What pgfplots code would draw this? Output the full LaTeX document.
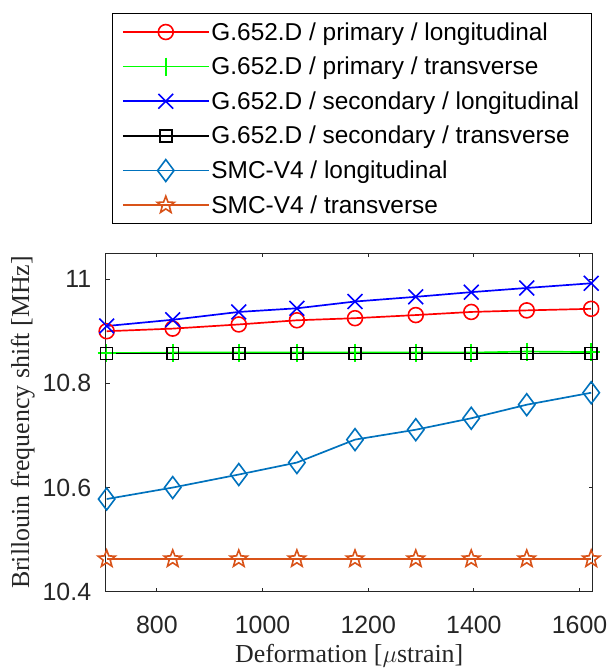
\documentclass[border=0pt]{standalone}
\usepackage{fontspec}
\setmainfont{Liberation Sans}
\newfontfamily\timesfont{Liberation Serif}
\usepackage{pgfplots}
\pgfplotsset{compat=1.18}
\usetikzlibrary{plotmarks}

\definecolor{mblue}{rgb}{0,0.447,0.741}
\definecolor{morange}{rgb}{0.85,0.325,0.098}
\definecolor{axgray}{rgb}{0.15,0.15,0.15}

% five pointed outline star (MATLAB pentagram)
\pgfdeclareplotmark{pentastar}{%
  \pgfpathmoveto{\pgfpointpolar{90}{\pgfplotmarksize}}%
  \pgfpathlineto{\pgfpointpolar{126}{0.42\pgfplotmarksize}}%
  \pgfpathlineto{\pgfpointpolar{162}{\pgfplotmarksize}}%
  \pgfpathlineto{\pgfpointpolar{198}{0.42\pgfplotmarksize}}%
  \pgfpathlineto{\pgfpointpolar{234}{\pgfplotmarksize}}%
  \pgfpathlineto{\pgfpointpolar{270}{0.42\pgfplotmarksize}}%
  \pgfpathlineto{\pgfpointpolar{306}{\pgfplotmarksize}}%
  \pgfpathlineto{\pgfpointpolar{342}{0.42\pgfplotmarksize}}%
  \pgfpathlineto{\pgfpointpolar{18}{\pgfplotmarksize}}%
  \pgfpathlineto{\pgfpointpolar{54}{0.42\pgfplotmarksize}}%
  \pgfpathclose
  \pgfusepathqstroke
}

\pgfplotsset{ser/.style={line width=1.7pt, mark options={solid, line width=1.6pt}}}

\begin{document}
\begin{tikzpicture}
\begin{axis}[
  scale only axis, width=489pt, height=340pt,
  xmin=703, xmax=1625, ymin=10.4, ymax=11.05,
  xtick={800,1000,1200,1400,1600},
  ytick={10.4,10.6,10.8,11},
  /pgf/number format/assume math mode=true,
  /pgf/number format/set thousands separator={},
  tick label style={font=\fontsize{25}{30}\selectfont, text=axgray},
  xticklabel style={yshift=-21pt},
  yticklabel style={xshift=-11pt},
  axis line style={axgray, line width=1pt},
  major tick style={axgray, line width=1pt},
  xlabel={\timesfont Deformation [$\mu$strain]},
  ylabel={\timesfont Brillouin frequency shift [MHz]},
  label style={font=\fontsize{26}{30}\selectfont, text=axgray},
  xlabel style={at={(axis description cs:0.5,-0.19)}, anchor=center},
  ylabel style={at={(axis description cs:-0.17,0.5)}, anchor=center},
  clip=false,
  legend style={at={(axis description cs:0.505,1.7088)}, anchor=north,
    draw=black, line width=1pt, font=\fontsize{24.5}{29}\selectfont,
    inner xsep=10pt, inner ysep=7pt, row sep=11.5pt},
  legend cell align=left,
  legend image code/.code={%
    \draw[line width=1.7pt, mark repeat=2,mark phase=2] plot coordinates {(0pt,0pt) (43pt,0pt) (86pt,0pt)};},
]
\addplot[ser, red, mark=o, mark size=7.5pt] coordinates {
 (705,10.900) (830,10.905) (955,10.913) (1065,10.921) (1175,10.925)
 (1290,10.931) (1395,10.937) (1500,10.940) (1622,10.943)};
\addlegendentry{G.652.D / primary / longitudinal}
\addplot[ser, green, mark=+, mark size=9pt] coordinates {
 (705,10.858) (830,10.859) (955,10.859) (1065,10.859) (1175,10.859)
 (1290,10.859) (1395,10.859) (1500,10.861) (1622,10.860)};
\addlegendentry{G.652.D / primary / transverse}
\addplot[ser, blue, mark=x, mark size=10.5pt] coordinates {
 (705,10.910) (830,10.922) (955,10.937) (1065,10.944) (1175,10.957)
 (1290,10.966) (1395,10.975) (1500,10.983) (1622,10.992)};
\addlegendentry{G.652.D / secondary / longitudinal}
\addplot[ser, black, mark=square, mark size=6pt] coordinates {
 (705,10.857) (830,10.857) (955,10.857) (1065,10.857) (1175,10.857)
 (1290,10.857) (1395,10.857) (1500,10.857) (1622,10.857)};
\addlegendentry{G.652.D / secondary / transverse}
\addplot[ser, mblue, mark=diamond, mark size=11pt] coordinates {
 (705,10.578) (830,10.600) (955,10.625) (1065,10.648) (1175,10.692)
 (1290,10.711) (1395,10.733) (1500,10.759) (1622,10.782)};
\addlegendentry{SMC-V4 / longitudinal}
\addplot[ser, morange, mark=pentastar, mark size=9pt] coordinates {
 (705,10.463) (830,10.463) (955,10.463) (1065,10.463) (1175,10.463)
 (1290,10.463) (1395,10.463) (1500,10.463) (1622,10.463)};
\addlegendentry{SMC-V4 / transverse}
\end{axis}
\path (current axis.south west) ++(-106pt,-77pt) rectangle ++(612pt,671pt);
\end{tikzpicture}
\end{document}
